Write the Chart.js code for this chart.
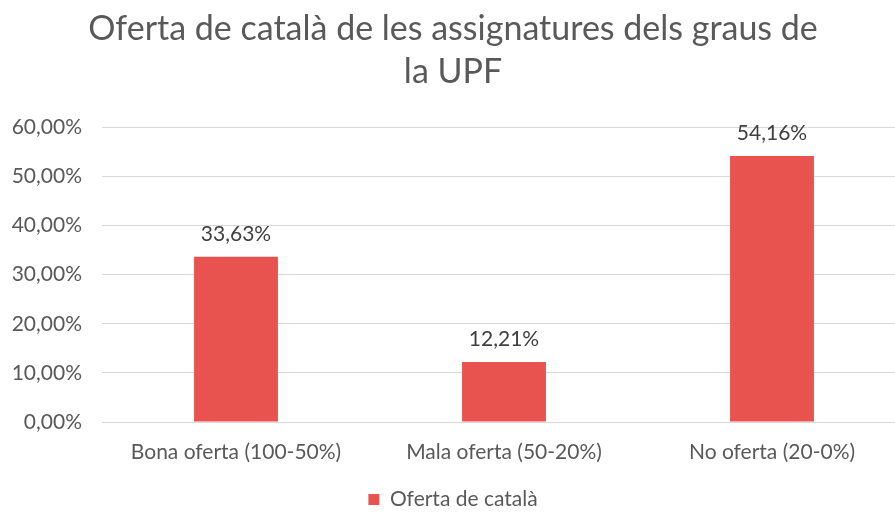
<!DOCTYPE html>
<html><head><meta charset="utf-8">
<script src="https://cdn.jsdelivr.net/npm/chart.js@4/dist/chart.umd.min.js"></script>
<style>html,body{margin:0;padding:0;background:#fff;overflow:hidden}#wrap{width:930px;height:512px}</style>
</head><body><div id="wrap"><canvas id="c" width="930" height="512"></canvas></div>
<script>
const categories = ["Bona oferta (100-50%)", "Mala oferta (50-20%)", "No oferta (20-0%)"];
const values = [33.63, 12.21, 54.16];
const seriesName = "Oferta de català";
const titleLines = ["Oferta de català de les assignatures dels graus de", "la UPF"];
const yMin = 0, yMax = 60, yStep = 10;

const fmt = v => v.toFixed(2).replace('.', ',') + '%';
const FONT = 'Lato, "Open Sans", sans-serif';

const labelPlugin = {
  id: 'barLabels',
  afterDatasetsDraw(chart) {
    const ctx = chart.ctx;
    const meta = chart.getDatasetMeta(0);
    ctx.save();
    ctx.font = '21px ' + FONT;
    ctx.fillStyle = '#404040';
    ctx.textAlign = 'center';
    ctx.textBaseline = 'middle';
    meta.data.forEach((bar, i) => {
      ctx.fillText(fmt(chart.data.datasets[0].data[i]), bar.x, bar.y - 23);
    });
    ctx.restore();
  }
};

new Chart(document.getElementById('c'), {
  type: 'bar',
  data: {
    labels: categories,
    datasets: [{
      label: seriesName,
      data: values,
      backgroundColor: '#E8534F',
      borderWidth: 0,
      categoryPercentage: 1,
      barPercentage: 0.313
    }]
  },
  options: {
    responsive: false,
    animation: false,
    layout: { padding: { left: 0, right: 24, top: 0, bottom: -8 } },
    plugins: {
      title: {
        display: true,
        text: titleLines,
        color: '#595959',
        font: { family: FONT, size: 34, weight: 'normal', lineHeight: 1.27 },
        padding: { top: 7, bottom: 34 }
      },
      legend: {
        position: 'bottom',
        labels: {
          color: '#595959',
          font: { family: FONT, size: 21 },
          boxWidth: 11, boxHeight: 11,
          padding: 3
        }
      },
      tooltip: { enabled: false }
    },
    scales: {
      x: {
        grid: { display: false },
        border: { display: false },
        ticks: { color: '#595959', font: { family: FONT, size: 21 }, padding: 10, maxRotation: 0 },
        afterFit(s) { s.height = 64; }
      },
      y: {
        min: yMin, max: yMax,
        grid: { color: '#d9d9d9', drawTicks: false },
        border: { display: false },
        ticks: { stepSize: yStep, color: '#595959', font: { family: FONT, size: 21 }, padding: 20, callback: v => fmt(v) },
        afterFit(s) { s.width = 102; }
      }
    }
  },
  plugins: [labelPlugin]
});
</script></body></html>
